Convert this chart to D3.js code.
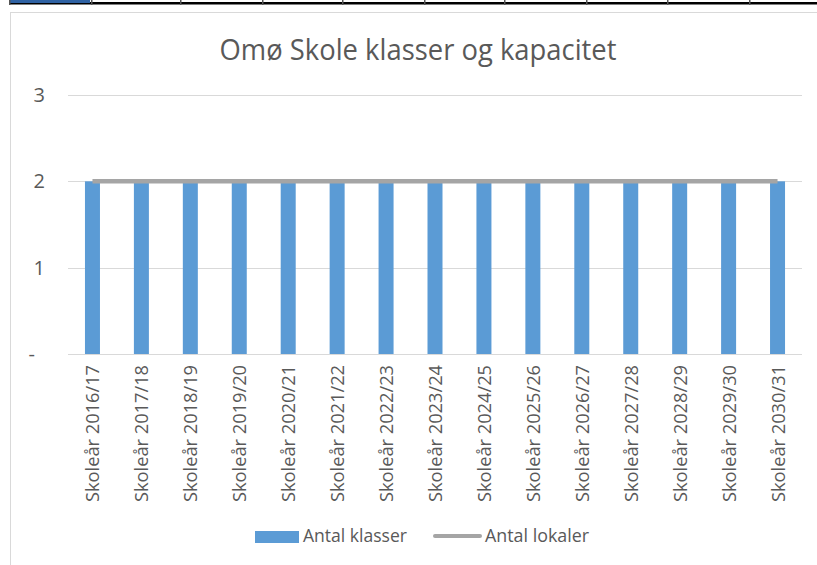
<!DOCTYPE html>
<html>
<head>
<meta charset="utf-8">
<script src="https://cdn.jsdelivr.net/npm/d3@7"></script>
<style>
  body { margin: 0; background: #fff; }
  svg { display: block; font-family: "Open Sans", sans-serif; }
</style>
</head>
<body>
<svg id="chart" width="817" height="565"></svg>
<script>
// data
const categories = ['Skoleår 2016/17', 'Skoleår 2017/18', 'Skoleår 2018/19', 'Skoleår 2019/20',
  'Skoleår 2020/21', 'Skoleår 2021/22', 'Skoleår 2022/23', 'Skoleår 2023/24', 'Skoleår 2024/25',
  'Skoleår 2025/26', 'Skoleår 2026/27', 'Skoleår 2027/28', 'Skoleår 2028/29', 'Skoleår 2029/30',
  'Skoleår 2030/31']
const antalKlasser = [2, 2, 2, 2, 2, 2, 2, 2, 2, 2, 2, 2, 2, 2, 2]
const antalLokaler = [2, 2, 2, 2, 2, 2, 2, 2, 2, 2, 2, 2, 2, 2, 2]
const yTicks = [0, 1, 2, 3]
const stripCols = [9, 91, 180, 262, 342, 424, 504, 586, 667, 749]

const svg = d3.select('#chart')
const textColor = '#595959'

// spreadsheet strip above the chart
svg.append('rect').attr('x', 9).attr('y', 2).attr('width', 808).attr('height', 2.5).attr('fill', '#000')
svg.append('rect').attr('x', 10).attr('y', 0).attr('width', 80).attr('height', 3).attr('fill', '#2f62a3')
svg.selectAll('.strip-tick').data(stripCols).enter().append('rect')
  .attr('x', d => d).attr('y', 0).attr('width', 1.5).attr('height', 5).attr('fill', '#555')

// chart frame
svg.append('rect').attr('x', 10.5).attr('y', 12.5).attr('width', 830).attr('height', 600)
  .attr('fill', '#fff').attr('stroke', '#d9d9d9')

const x = d3.scaleBand().domain(categories).range([68, 802])
const y = d3.scaleLinear().domain([0, 3]).range([354, 95])
const barW = 15

// title
svg.append('text')
  .attr('x', 418).attr('y', 60).attr('text-anchor', 'middle')
  .attr('font-size', 30).attr('fill', textColor)
  .attr('textLength', 397).attr('lengthAdjust', 'spacingAndGlyphs')
  .text('Omø Skole klasser og kapacitet')

// grid
svg.append('g').selectAll('line').data(yTicks).enter().append('line')
  .attr('x1', 68).attr('x2', 802)
  .attr('y1', d => Math.round(y(d)) + 0.5).attr('y2', d => Math.round(y(d)) + 0.5)
  .attr('stroke', '#d9d9d9').attr('stroke-width', 1.2)

// y labels
svg.append('g').selectAll('text').data(yTicks).enter().append('text')
  .attr('x', d => d === 0 ? 35 : 45)
  .attr('y', d => y(d) + 7)
  .attr('text-anchor', 'end')
  .attr('font-size', 20).attr('fill', textColor)
  .text(d => d === 0 ? '-' : d3.format('d')(d))

// bars
svg.append('g').selectAll('rect').data(antalKlasser).enter().append('rect')
  .attr('x', (d, i) => x(categories[i]) + x.bandwidth() / 2 - barW / 2)
  .attr('y', d => y(d))
  .attr('width', barW)
  .attr('height', d => y(0) - y(d))
  .attr('fill', '#5b9bd5')

// line
const line = d3.line()
  .x((d, i) => x(categories[i]) + x.bandwidth() / 2)
  .y(d => y(d))
svg.append('path').datum(antalLokaler)
  .attr('d', line).attr('fill', 'none')
  .attr('stroke', '#a5a5a5').attr('stroke-width', 4.5)

// x labels
svg.append('g').selectAll('text').data(categories).enter().append('text')
  .attr('transform', d => `translate(${x(d) + x.bandwidth() / 2 + 7},365) rotate(-90)`)
  .attr('text-anchor', 'end')
  .attr('font-size', 19).attr('fill', textColor)
  .attr('textLength', 137).attr('lengthAdjust', 'spacingAndGlyphs')
  .text(d => d)

// legend
const legend = svg.append('g')
legend.append('rect').attr('x', 255).attr('y', 531).attr('width', 44).attr('height', 12).attr('fill', '#5b9bd5')
legend.append('text').attr('x', 303).attr('y', 542).attr('font-size', 19).attr('fill', textColor)
  .attr('textLength', 104).attr('lengthAdjust', 'spacingAndGlyphs').text('Antal klasser')
legend.append('line').attr('x1', 435).attr('x2', 480).attr('y1', 536).attr('y2', 536)
  .attr('stroke', '#a5a5a5').attr('stroke-width', 4).attr('stroke-linecap', 'round')
legend.append('text').attr('x', 485).attr('y', 542).attr('font-size', 19).attr('fill', textColor)
  .attr('textLength', 104).attr('lengthAdjust', 'spacingAndGlyphs').text('Antal lokaler')
</script>
</body>
</html>
